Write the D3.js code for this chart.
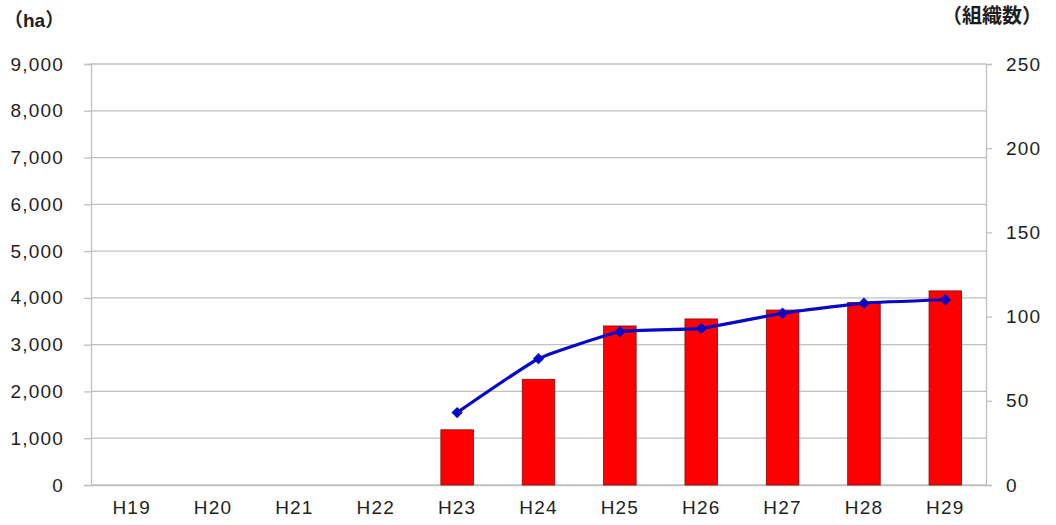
<!DOCTYPE html>
<html>
<head>
<meta charset="utf-8">
<script src="https://cdn.jsdelivr.net/npm/d3@7"></script>
<style>
  html, body { margin: 0; padding: 0; background: #fff; }
  svg { display: block; font-family: "Liberation Sans", Arial, sans-serif; }
</style>
</head>
<body>
<svg id="chart" width="1056" height="525"></svg>
<script>
// Fiscal years
const years = ["H19", "H20", "H21", "H22", "H23", "H24", "H25", "H26", "H27", "H28", "H29"];
// Area (ha), left axis
const areaHa = [null, null, null, null, 1180, 2260, 3400, 3550, 3740, 3900, 4150];
// Number of organisations, right axis
const orgCount = [null, null, null, null, 43, 75, 91, 93, 102, 108, 110];
const leftTicks = [0, 1000, 2000, 3000, 4000, 5000, 6000, 7000, 8000, 9000];
const rightTicks = [0, 50, 100, 150, 200, 250];

const svg = d3.select("#chart");
const m = { left: 91, right: 1056 - 986, top: 64, bottom: 525 - 485 };
const W = 1056 - m.left - m.right;
const H = 525 - m.top - m.bottom;
const g = svg.append("g").attr("transform", `translate(${m.left},${m.top})`);

const x = d3.scaleBand().domain(years).range([0, W]).paddingInner(0.6).paddingOuter(0.3);
const xc = d3.scaleBand().domain(years).range([0, W]);
const yL = d3.scaleLinear().domain([0, 9000]).range([H, 0]);
const yR = d3.scaleLinear().domain([0, 250]).range([H, 0]);

const gridColor = "#c0c0c0";
const textColor = "#1e1e1e";
const fs = 19;
const ls = "1.2px";

// horizontal gridlines
g.append("g").selectAll("line").data(leftTicks).join("line")
  .attr("x1", 0).attr("x2", W)
  .attr("y1", d => yL(d)).attr("y2", d => yL(d))
  .attr("stroke", gridColor).attr("stroke-width", 1.3);

// left axis
const axL = g.append("g").call(d3.axisLeft(yL).tickValues(leftTicks).tickFormat(d3.format(",")).tickSize(7).tickPadding(20));
axL.select(".domain").attr("stroke", gridColor).attr("stroke-width", 1.3);
axL.selectAll(".tick line").attr("stroke", gridColor).attr("stroke-width", 1.3);
axL.selectAll("text").attr("font-size", fs).attr("letter-spacing", ls).attr("fill", textColor);

// right axis
const axR = g.append("g").attr("transform", `translate(${W},0)`)
  .call(d3.axisRight(yR).tickValues(rightTicks).tickSize(6).tickPadding(14));
axR.select(".domain").attr("stroke", gridColor).attr("stroke-width", 1.3);
axR.selectAll(".tick line").attr("stroke", gridColor).attr("stroke-width", 1.3);
axR.selectAll("text").attr("font-size", fs).attr("letter-spacing", ls).attr("fill", textColor);

// bottom category axis
const axB = g.append("g").attr("transform", `translate(0,${H})`)
  .call(d3.axisBottom(xc).tickSize(0).tickPadding(16));
axB.select(".domain").attr("stroke", gridColor).attr("stroke-width", 1.3);
axB.selectAll("text").attr("font-size", fs).attr("letter-spacing", ls).attr("fill", textColor);

// bars
g.append("g").selectAll("rect")
  .data(years.map((y, i) => ({ y, v: areaHa[i] })).filter(d => d.v != null))
  .join("rect")
  .attr("x", d => x(d.y)).attr("width", x.bandwidth())
  .attr("y", d => yL(d.v)).attr("height", d => H - yL(d.v))
  .attr("fill", "#ff0000").attr("stroke", "#7a1010").attr("stroke-width", 0.8);

// organisation count line
const pts = years.map((y, i) => ({ y, v: orgCount[i] })).filter(d => d.v != null);
const cx = d => xc(d.y) + xc.bandwidth() / 2;
const line = d3.line().x(cx).y(d => yR(d.v)).curve(d3.curveCardinal.tension(0.6));
g.append("path").datum(pts).attr("d", line)
  .attr("fill", "none").attr("stroke", "#0808c8").attr("stroke-width", 3.2);
g.append("g").selectAll("rect").data(pts).join("rect")
  .attr("x", -4).attr("y", -4).attr("width", 8).attr("height", 8)
  .attr("transform", d => `translate(${cx(d)},${yR(d.v)}) rotate(45)`)
  .attr("fill", "#0808c8");

// axis unit labels
svg.append("text").attr("x", 4).attr("y", 27).attr("font-size", 19).attr("font-weight", "bold")
  .attr("font-family", "'Liberation Sans', 'Noto Sans CJK JP', sans-serif")
  .attr("fill", textColor).text("（ha）");
svg.append("text").attr("x", 1042).attr("y", 23).attr("text-anchor", "end").attr("font-size", 20)
  .attr("font-weight", "bold").attr("font-family", "'Noto Sans CJK JP', sans-serif")
  .attr("fill", textColor).text("（組織数）");
</script>
</body>
</html>
